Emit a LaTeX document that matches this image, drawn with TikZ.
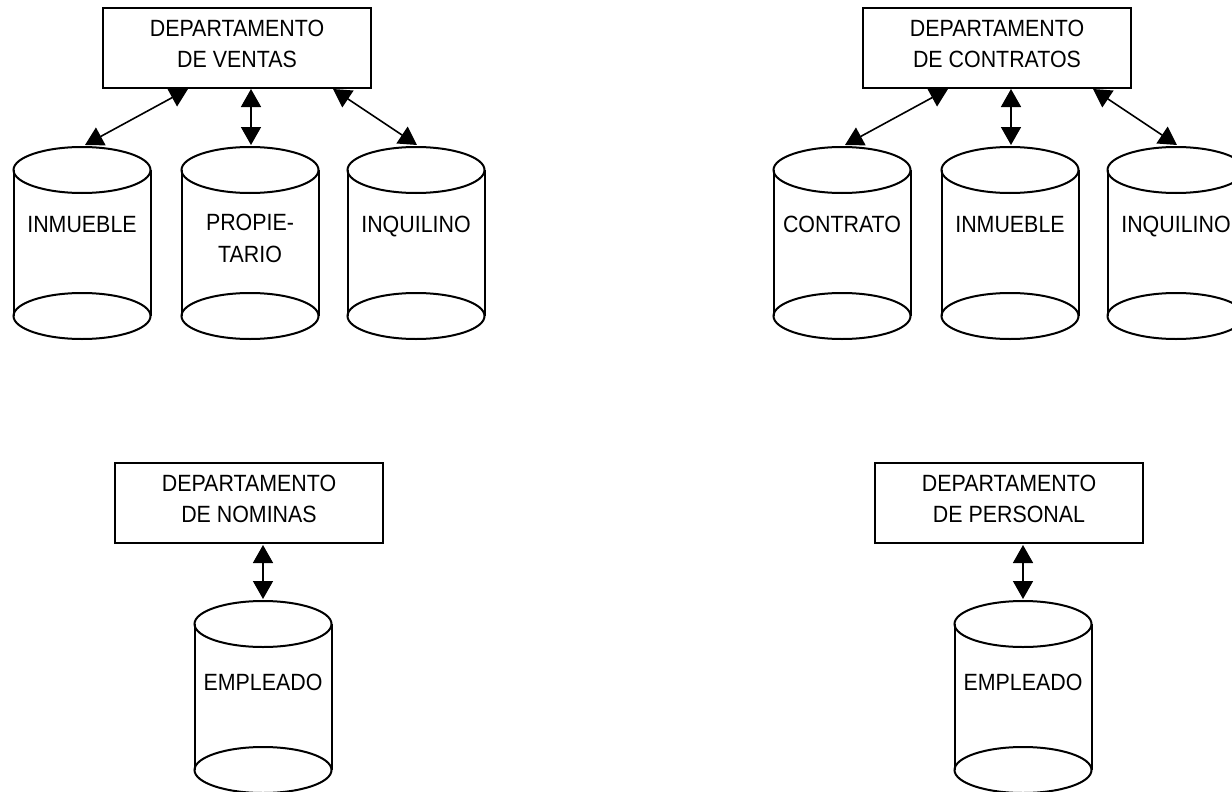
\documentclass[tikz,border=0pt]{standalone}
\usepackage{fontspec}
\setmainfont{Liberation Sans}[FakeStretch=0.91]
\usetikzlibrary{arrows.meta,shapes.geometric,calc}
\newcommand\dbcyl[5]{%
  \node[lid] (#1t) at (#2,#3) {};
  \node[lid] (#1b) at (#2,#3+146) {};
  \draw (#1t.west) -- (#1b.west) (#1t.east) -- (#1b.east);
  \node[lbl] (#1) at (#2,#4) {#5};
}
\begin{document}
\begin{tikzpicture}[x=1pt,y=-1pt,line width=2pt,
  dept/.style={draw,rectangle,minimum width=268pt,minimum height=80pt,inner sep=0pt,outer sep=0pt,
    align=center,text depth=7.6pt,font=\fontsize{23.5}{31}\selectfont},
  lid/.style={draw,ellipse,minimum width=137pt,minimum height=46pt,inner sep=0pt,outer sep=0pt},
  lbl/.style={inner sep=0pt,align=center,anchor=north,font=\fontsize{23.5}{32}\selectfont},
  link/.style={{Triangle[length=18pt,width=20pt]}-{Triangle[length=18pt,width=20pt]},line width=1.6pt}]
\useasboundingbox (0,0) rectangle (1232,792);
\clip (0,0) rectangle (1232,792);
\fill[white] (0,0) rectangle (1232,792);

% Ventas
\node[dept] (ventas) at (237,48) {DEPARTAMENTO\\DE VENTAS};
\dbcyl{v1}{82}{170}{215}{INMUEBLE}
\dbcyl{v2}{250}{170}{213}{PROPIE-\\TARIO}
\dbcyl{v3}{416}{170}{215}{INQUILINO}
\draw[link] ($(ventas.south west)+(85,1)$) -- ($(v1t.north)+(3,-2)$);
\draw[link] ($(ventas.south west)+(148,1)$) -- ($(v2t.north)+(1,-2)$);
\draw[link] ($(ventas.south west)+(230,1)$) -- ($(v3t.north)+(1,-2)$);

% Contratos
\node[dept] (contratos) at (997,48) {DEPARTAMENTO\\DE CONTRATOS};
\dbcyl{c1}{842}{170}{215}{CONTRATO}
\dbcyl{c2}{1010}{170}{215}{INMUEBLE}
\dbcyl{c3}{1176}{170}{215}{INQUILINO}
\draw[link] ($(contratos.south west)+(85,1)$) -- ($(c1t.north)+(3,-2)$);
\draw[link] ($(contratos.south west)+(148,1)$) -- ($(c2t.north)+(1,-2)$);
\draw[link] ($(contratos.south west)+(230,1)$) -- ($(c3t.north)+(1,-2)$);

% Nominas
\node[dept] (nominas) at (249,503) {DEPARTAMENTO\\DE NOMINAS};
\dbcyl{n1}{263}{624}{673}{EMPLEADO}
\draw[link] ($(nominas.south)+(14,2)$) -- ($(n1t.north)+(0,-2)$);

% Personal
\node[dept] (personal) at (1009,503) {DEPARTAMENTO\\DE PERSONAL};
\dbcyl{p1}{1023}{624}{673}{EMPLEADO}
\draw[link] ($(personal.south)+(14,2)$) -- ($(p1t.north)+(0,-2)$);
\end{tikzpicture}
\end{document}
